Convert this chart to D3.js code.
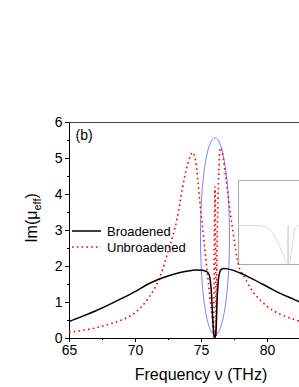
<!DOCTYPE html>
<html>
<head>
<meta charset="utf-8">
<script src="https://cdn.jsdelivr.net/npm/d3@7/dist/d3.min.js"></script>
<style>
  html, body { margin: 0; padding: 0; background: #fff; }
  svg { display: block; font-family: Arial, "Liberation Sans", sans-serif; }
</style>
</head>
<body>
<svg id="chart" width="299" height="387"></svg>
<script>
// ---- data ----
const xTicks = [65, 70, 75, 80];
const yTicks = [0, 1, 2, 3, 4, 5, 6];
const seriesNames = ["Broadened", "Unbroadened"];

const broadX = [65, 66, 67, 68, 69, 70, 71, 72, 73, 74, 74.6, 75.1, 75.4, 75.6, 75.72, 75.8, 75.88, 75.98, 76.06, 76.14, 76.21, 76.3, 76.4, 76.52, 76.7, 77, 78, 79, 80, 81, 82, 82.5, 84];
const broadY = [0.46, 0.6, 0.75, 0.92, 1.1, 1.29, 1.5, 1.66, 1.78, 1.86, 1.89, 1.88, 1.85, 1.77, 1.55, 1.2, 0.6, 0.08, 0.0, 0.25, 0.95, 1.55, 1.8, 1.9, 1.93, 1.92, 1.8, 1.62, 1.43, 1.24, 1.08, 1.0, 0.82];

const unbrX = [65, 66, 67, 68, 69, 70, 71, 71.9, 72.5, 73.2, 73.6, 74.0, 74.37, 74.6, 74.9, 75.3, 75.7, 75.9, 75.96, 75.99, 76.03, 76.06, 76.09, 76.12, 76.15, 76.2, 76.29, 76.36, 76.44, 76.6, 76.9, 77.35, 77.88, 78.2, 78.9, 79.5, 80, 81, 82, 82.5, 84];
const unbrY = [0.16, 0.21, 0.28, 0.38, 0.5, 0.7, 1.1, 1.7, 2.4, 3.33, 4.17, 4.85, 5.15, 4.9, 3.83, 2.44, 1.05, 0.35, 0.05, 1.5, 3.5, 4.2, 3.5, 1.5, 0.05, 2.0, 3.83, 4.7, 5.28, 5.17, 4.39, 3.14, 1.97, 1.75, 1.3, 1.05, 0.88, 0.66, 0.52, 0.46, 0.35];

// highlighted region (ellipse centre and radii, in data units)
const ellipseC = [76.06, 2.82];
const ellipseR = [1.1, 2.74];

// inset curve (fractions of the inset box)
const insetX = [0, 0.17, 0.3, 0.39, 0.47, 0.54, 0.6, 0.64, 0.67, 0.69, 0.694, 0.698, 0.702, 0.72, 0.75, 0.78, 0.81, 0.85, 0.9];
const insetY = [0.46, 0.46, 0.455, 0.44, 0.38, 0.28, 0.17, 0.08, 0.02, 0.0, 0.46, 0.46, 0.0, 0.03, 0.2, 0.38, 0.44, 0.46, 0.46];

// ---- drawing ----
const svg = d3.select("#chart");
const pLeft = 69, pTop = 122, pBottom = 338, pRight = 310;

const x = d3.scaleLinear().domain([65, 82.5]).range([pLeft, pLeft + 17.5 * 13.2]);
const y = d3.scaleLinear().domain([0, 6]).range([pBottom, pTop]);

const defs = svg.append("defs");
defs.append("clipPath").attr("id", "plotclip")
  .append("rect").attr("x", pLeft).attr("y", pTop).attr("width", pRight - pLeft).attr("height", pBottom - pTop);

// top frame line
svg.append("line").attr("x1", pLeft).attr("x2", pRight).attr("y1", pTop + 0.5).attr("y2", pTop + 0.5)
  .attr("stroke", "#444").attr("stroke-width", 1);

// axes
const fmt = d3.format("d");
const xAxis = d3.axisBottom(x).tickValues(xTicks).tickFormat(fmt).tickSize(4).tickPadding(3.5).tickSizeOuter(0);
const xMinor = d3.axisBottom(x).tickValues([67.5, 72.5, 77.5, 82.5]).tickSize(2).tickFormat("").tickSizeOuter(0);
const yAxis = d3.axisLeft(y).tickValues(yTicks).tickFormat(fmt).tickSize(4).tickPadding(2.5).tickSizeOuter(0);
const yMinor = d3.axisLeft(y).tickValues([0.5, 1.5, 2.5, 3.5, 4.5, 5.5]).tickSize(2).tickFormat("").tickSizeOuter(0);

const gx = svg.append("g").attr("transform", `translate(0,${pBottom})`).call(xAxis);
const gxm = svg.append("g").attr("transform", `translate(0,${pBottom})`).call(xMinor);
gxm.select(".domain").remove();
const gy = svg.append("g").attr("transform", `translate(${pLeft},0)`).call(yAxis);
const gym = svg.append("g").attr("transform", `translate(${pLeft},0)`).call(yMinor);
gym.select(".domain").remove();

gx.select(".domain").attr("d", `M${pLeft},0.5H${pRight}`);
[gx, gy, gxm, gym].forEach(g => {
  g.selectAll("text").attr("font-size", 14).attr("fill", "#000").attr("font-family", "Arial, 'Liberation Sans', sans-serif");
  g.selectAll("line").attr("stroke", "#000");
  g.select(".domain").attr("stroke", "#000");
});

const plot = svg.append("g").attr("clip-path", "url(#plotclip)");

// inset box
const insetBox = { x0: 238, x1: 310, y0: 180, y1: 264 };
const ix = d3.scaleLinear().domain([0, 1]).range([insetBox.x0, insetBox.x1]);
const iy = d3.scaleLinear().domain([0, 1]).range([insetBox.y1, insetBox.y0]);
defs.append("clipPath").attr("id", "insetclip")
  .append("rect").attr("x", insetBox.x0).attr("y", insetBox.y0)
  .attr("width", insetBox.x1 - insetBox.x0).attr("height", insetBox.y1 - insetBox.y0);
plot.append("rect").attr("x", insetBox.x0 + 0.5).attr("y", insetBox.y0 + 0.5)
  .attr("width", insetBox.x1 - insetBox.x0).attr("height", insetBox.y1 - insetBox.y0)
  .attr("fill", "#fff").attr("stroke", "#aaa").attr("stroke-width", 1);
plot.append("path")
  .datum(insetX.map((v, i) => [v, insetY[i]]))
  .attr("clip-path", "url(#insetclip)")
  .attr("fill", "none").attr("stroke", "#d8d8d8").attr("stroke-width", 1)
  .attr("d", d3.line().x(d => ix(d[0])).y(d => iy(d[1])).curve(d3.curveMonotoneX));

// ellipse
plot.append("ellipse")
  .attr("cx", x(ellipseC[0])).attr("cy", y(ellipseC[1]))
  .attr("rx", x(ellipseC[0] + ellipseR[0]) - x(ellipseC[0]))
  .attr("ry", y(0) - y(ellipseR[1]))
  .attr("fill", "none").attr("stroke", "#8080ff").attr("stroke-width", 1);

const line = d3.line().x(d => x(d[0])).y(d => y(d[1])).curve(d3.curveMonotoneX);

// unbroadened (red dotted)
plot.append("path")
  .datum(unbrX.map((v, i) => [v, unbrY[i]]))
  .attr("fill", "none").attr("stroke", "#ff0000").attr("stroke-width", 1.6)
  .attr("stroke-dasharray", "1.6,3.2")
  .attr("d", line);

// broadened (black solid)
plot.append("path")
  .datum(broadX.map((v, i) => [v, broadY[i]]))
  .attr("fill", "none").attr("stroke", "#000").attr("stroke-width", 1.5)
  .attr("d", line);

// panel label
svg.append("text").attr("x", 75.5).attr("y", 139.5).attr("font-size", 14).text("(b)");

// legend
const legend = svg.append("g");
const legY = [231, 247];
legend.append("line").attr("x1", 72).attr("x2", 101).attr("y1", legY[0]).attr("y2", legY[0])
  .attr("stroke", "#000").attr("stroke-width", 1.5);
legend.append("line").attr("x1", 72).attr("x2", 101).attr("y1", legY[1]).attr("y2", legY[1])
  .attr("stroke", "#ff0000").attr("stroke-width", 1.6).attr("stroke-dasharray", "1.6,3.2");
seriesNames.forEach((n, i) => {
  legend.append("text").attr("x", 107).attr("y", legY[i] + 4.6).attr("font-size", 13).text(n);
});

// axis titles
svg.append("text").attr("x", 201).attr("y", 379.5).attr("text-anchor", "middle")
  .attr("font-size", 16).text("Frequency ν (THz)");

const yt = svg.append("text").attr("transform", "translate(37,218) rotate(-90)")
  .attr("text-anchor", "middle").attr("font-size", 16);
yt.append("tspan").text("Im(μ");
yt.append("tspan").attr("font-size", 11).attr("dy", "0.35em").text("eff");
yt.append("tspan").attr("dy", "-0.25em").text(")");
</script>
</body>
</html>
